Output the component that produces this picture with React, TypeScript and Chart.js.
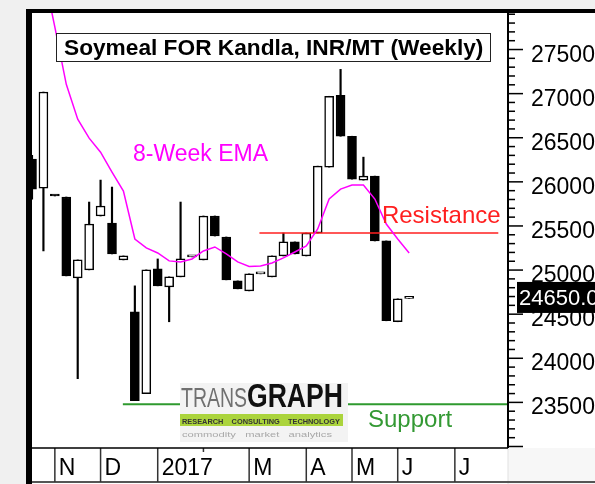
import React, { useEffect, useRef } from "react";
import { Chart, registerables } from "chart.js";

Chart.register(...registerables);

const FONT = '"Liberation Sans", Arial, Helvetica, sans-serif';

// Weekly candles (week ending dates)
const weeks = [
  "2016-10-21", "2016-10-28", "2016-11-04", "2016-11-11", "2016-11-18", "2016-11-25",
  "2016-12-02", "2016-12-09", "2016-12-16", "2016-12-23", "2016-12-30",
  "2017-01-06", "2017-01-13", "2017-01-20", "2017-01-27",
  "2017-02-03", "2017-02-10", "2017-02-17", "2017-02-24",
  "2017-03-03", "2017-03-10", "2017-03-17", "2017-03-24", "2017-03-31",
  "2017-04-07", "2017-04-14", "2017-04-21", "2017-04-28",
  "2017-05-05", "2017-05-12", "2017-05-19", "2017-05-26",
  "2017-06-02", "2017-06-09",
];

const opens = [
  26257, 25929, 25845, 25828, 24911, 25002, 25613, 25533, 25115, 24527, 23599,
  25013, 24810, 24923, 25150, 25115, 25613, 25375, 24877, 24764, 24957, 24923,
  25160, 25319, 25160, 25420, 26167, 26981, 26517, 26020, 26065, 25330, 24414, 24680,
];
const highs = [
  26300, 27018, 25845, 25828, 25115, 25771, 26020, 25941, 25160, 24821, 25002,
  25126, 24923, 25771, 25150, 25613, 25613, 25375, 24877, 24957, 24957, 25160,
  25420, 25319, 25420, 26178, 26970, 27275, 26517, 26280, 26065, 25330, 24674, 24680,
];
const lows = [
  25805, 25217, 25840, 24934, 23769, 25002, 25613, 25183, 25115, 23520, 23599,
  24821, 24414, 24923, 25150, 25115, 25386, 24889, 24787, 24764, 24957, 24923,
  25160, 25183, 25160, 25420, 26167, 26517, 26031, 26020, 25330, 24425, 24414, 24680,
];
const closes = [
  25918, 27018, 25840, 24934, 25115, 25522, 25726, 25183, 25160, 23520, 25002,
  24821, 24923, 25126, 25150, 25613, 25386, 24889, 24787, 24957, 24957, 25160,
  25319, 25183, 25420, 26178, 26970, 26517, 26031, 26065, 25330, 24425, 24674, 24680,
];
const ema8 = [
  28760, 28380, 27754, 27106, 26710, 26495, 26336, 26110, 25895, 25352, 25251,
  25194, 25104, 25092, 25126, 25217, 25262, 25183, 25092, 25041, 25047, 25081,
  25138, 25205, 25273, 25466, 25805, 25918, 25963, 25963, 25805, 25522, 25352, 25194,
];

const monthLabels = ["N", "D", "2017", "", "M", "A", "M", "J", "J"];
const monthStartWeek = [2, 6, 11, 15, 19, 24, 28, 32, 37];
const yTickLabels = [23500, 24000, 24500, 25000, 25500, 26000, 26500, 27000, 27500];
const lastPrice = 24650;
const resistanceLevel = 25420;
const resistanceSpan = [19.9, 40.8];
const supportLevel = 23480;
const supportSpan = [7.95, 41.65];
const titleText = "Soymeal FOR Kandla, INR/MT (Weekly)";
const notes = [
  { text: "8-Week EMA", x: 8.84, y: 26236, color: "#ff00ff", size: 23 },
  { text: "Resistance", x: 30.62, y: 25533, color: "#ff1f1f", size: 24 },
  { text: "Support", x: 29.4, y: 23221, color: "#339933", size: 24 },
];

function fitText(ctx: CanvasRenderingContext2D, text: string, x: number, y: number, w: number) {
  const m = ctx.measureText(text).width;
  ctx.save();
  ctx.translate(x, y);
  ctx.scale(w / m, 1);
  ctx.fillText(text, 0, 0);
  ctx.restore();
}

function drawLogo(ctx: CanvasRenderingContext2D, x: number, y: number) {
  ctx.fillStyle = "#f3f3f3";
  ctx.fillRect(x, y, 168, 59);
  ctx.textAlign = "left";
  ctx.textBaseline = "alphabetic";
  ctx.font = `27px ${FONT}`;
  ctx.fillStyle = "#707070";
  fitText(ctx, "TRANS", x + 1, y + 24, 66);
  ctx.font = `bold 33px ${FONT}`;
  ctx.fillStyle = "#111";
  fitText(ctx, "GRAPH", x + 67, y + 24, 96);
  ctx.fillStyle = "#abd43c";
  ctx.fillRect(x, y + 31, 163, 12);
  ctx.font = `bold 8px ${FONT}`;
  ctx.fillStyle = "#333";
  fitText(ctx, "RESEARCH    CONSULTING    TECHNOLOGY", x + 2, y + 40.5, 158);
  ctx.font = `8px ${FONT}`;
  ctx.fillStyle = "#a8a8a8";
  fitText(ctx, "commodity   market   analytics", x + 2, y + 54, 150);
}

const decor = {
  id: "decor",
  beforeDraw(chart: any) {
    const { ctx, chartArea: a, width, height } = chart;
    ctx.save();
    ctx.fillStyle = "#f0f0f0";
    ctx.fillRect(0, 0, width, height);
    ctx.fillStyle = "#ffffff";
    ctx.fillRect(a.left, a.top, width - a.left, a.bottom - a.top);
    ctx.fillRect(a.left, a.bottom, a.right - a.left, height - a.bottom);
    ctx.fillStyle = "#f7f7f7";
    ctx.fillRect(a.right, a.bottom, width - a.right, height - a.bottom);
    ctx.restore();
  },
  afterDatasetsDraw(chart: any) {
    const { ctx, chartArea: a, width, height, scales } = chart;
    const xs = scales.x;
    const ys = scales.y;
    ctx.save();
    drawLogo(ctx, 180, 383);

    ctx.textAlign = "left";
    ctx.textBaseline = "alphabetic";
    for (const n of notes) {
      ctx.font = `${n.size}px ${FONT}`;
      ctx.fillStyle = n.color;
      ctx.fillText(n.text, xs.getPixelForValue(n.x), ys.getPixelForValue(n.y));
    }

    // title box
    ctx.fillStyle = "#ffffff";
    ctx.fillRect(56.5, 33.5, 434, 28);
    ctx.strokeStyle = "#222";
    ctx.lineWidth = 1;
    ctx.strokeRect(56.5, 33.5, 434, 28);
    ctx.font = `bold 22.7px ${FONT}`;
    ctx.fillStyle = "#000";
    ctx.fillText(titleText, 64, 55);

    // month strip
    ctx.fillStyle = "#e2e2e2";
    ctx.fillRect(a.right - 0.5, a.bottom, 1, height - a.bottom);
    ctx.fillStyle = "#555";
    ctx.fillRect(a.left, height - 3, width - a.left, 2);
    ctx.font = `23px ${FONT}`;
    monthStartWeek.forEach((w, i) => {
      const px = xs.getPixelForValue(w);
      ctx.fillStyle = "#333";
      if (monthLabels[i]) {
        ctx.fillRect(px - 0.75, a.bottom, 1.5, height - 2 - a.bottom);
        ctx.fillStyle = "#000";
        ctx.fillText(monthLabels[i], px + 4, 475);
      } else {
        ctx.fillRect(px - 0.75, a.bottom, 1.5, 4);
      }
    });

    // frame
    ctx.fillStyle = "#000";
    ctx.fillRect(26, 9, width - 26, 4);
    ctx.fillRect(26, 9, 6, height - 9);
    ctx.fillRect(a.left, a.bottom - 0.75, a.right - a.left, 1.5);
    ctx.fillRect(a.right - 1, a.top, 2, a.bottom - a.top);

    // right axis ticks
    for (let v = 23000; v <= 27900; v += 100) {
      const py = ys.getPixelForValue(v);
      const major = v % 500 === 0;
      ctx.fillRect(a.right, py - 0.75, major ? 15 : 7, 1.5);
    }
    ctx.font = `23px ${FONT}`;
    for (const v of yTickLabels) {
      const py = ys.getPixelForValue(v);
      ctx.fillText(String(v), 531, py + 12);
    }

    // last price box
    const lp = ys.getPixelForValue(lastPrice);
    ctx.fillStyle = "#000";
    ctx.fillRect(517, lp - 19, width - 517, 31);
    ctx.fillStyle = "#fff";
    ctx.font = `22px ${FONT}`;
    ctx.fillText(lastPrice.toFixed(1), 519, lp + 4);
    ctx.restore();
  },
};

export default function App() {
  const ref = useRef<HTMLCanvasElement | null>(null);
  useEffect(() => {
    if (!ref.current) return;
    const bodyColors = opens.map((o, i) => (closes[i] >= o ? "#ffffff" : "#000000"));
    const chart = new Chart(ref.current, {
      type: "bar",
      data: {
        datasets: [
          {
            type: "line",
            label: "8-Week EMA",
            data: ema8.map((v, i) => ({ x: i, y: v })),
            borderColor: "#ff00ff",
            borderWidth: 1.5,
            pointRadius: 0,
            tension: 0,
            order: 0,
            clip: 0,
          } as any,
          {
            type: "line",
            label: "Resistance",
            data: resistanceSpan.map((x) => ({ x, y: resistanceLevel })),
            borderColor: "#ff1f1f",
            borderWidth: 1.5,
            pointRadius: 0,
            order: 1,
            clip: 0,
          } as any,
          {
            type: "line",
            label: "Support",
            data: supportSpan.map((x) => ({ x, y: supportLevel })),
            borderColor: "#2f9a2f",
            borderWidth: 2,
            pointRadius: 0,
            order: 1,
            clip: 0,
          } as any,
          {
            type: "bar",
            label: "Body",
            data: weeks.map((_, i) => ({ x: i, y: [opens[i], closes[i]] })),
            backgroundColor: bodyColors,
            borderColor: "#000000",
            borderWidth: 1.5,
            borderSkipped: false,
            barThickness: 9,
            minBarLength: 2,
            grouped: false,
            order: 2,
            clip: 0,
          } as any,
          {
            type: "bar",
            label: "Wick",
            data: weeks.map((_, i) => ({ x: i, y: [lows[i], highs[i]] })),
            backgroundColor: "#000000",
            borderWidth: 0,
            barThickness: 1.5,
            grouped: false,
            order: 3,
            clip: 0,
          } as any,
        ],
      },
      options: {
        responsive: false,
        animation: false,
        devicePixelRatio: 1,
        layout: { padding: { left: 32, top: 13, right: 87, bottom: 36 } },
        scales: {
          x: { type: "linear", display: false, min: 0, max: 41.65, offset: false },
          y: { type: "linear", display: false, min: 22983, max: 27914, beginAtZero: false },
        },
        plugins: { legend: { display: false }, tooltip: { enabled: false }, title: { display: false } },
      } as any,
      plugins: [decor as any],
    });
    return () => chart.destroy();
  }, []);
  return (
    <div style={{ position: "absolute", left: 0, top: 0, width: 595, height: 484 }}>
      <canvas ref={ref} width={595} height={484} />
    </div>
  );
}
